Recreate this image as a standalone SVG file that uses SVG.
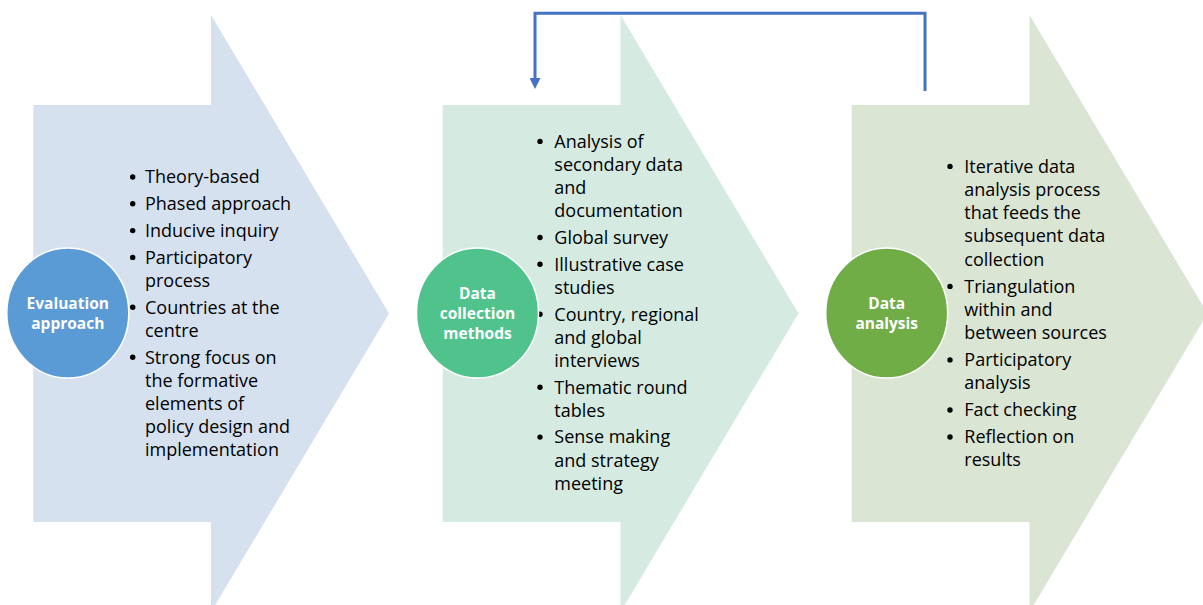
<svg xmlns="http://www.w3.org/2000/svg" width="1203" height="605" viewBox="0 0 1203 605">
<defs>
<style>
.item{font-family:"Open Sans","Liberation Sans",sans-serif;font-size:18px;fill:#000000;}
.lbl{font-family:"Open Sans","Liberation Sans",sans-serif;font-size:15.5px;font-weight:bold;fill:#ffffff;text-anchor:middle;}
.circ{stroke:#ffffff;stroke-width:1.5;}
.conn{fill:none;stroke:#4472C4;stroke-width:3;stroke-linejoin:miter;}
</style>
<marker id="ah" viewBox="0 0 10 10" refX="0" refY="5" markerUnits="userSpaceOnUse" markerWidth="11" markerHeight="11" orient="auto">
<path d="M0,0 L10,5 L0,10 Z" fill="#4472C4"/>
</marker>
</defs>
<rect width="1203" height="605" fill="#ffffff"/>

<g id="stage1">
<path d="M33.3,105 H211 V15 L389,313.5 L211,612 V522 H33.3 Z" fill="#D6E1EF"/>
<g class="item">
<circle cx="132.7" cy="177" r="2.7"/>
<circle cx="132.7" cy="203.8" r="2.7"/>
<circle cx="132.7" cy="230.6" r="2.7"/>
<circle cx="132.7" cy="257.4" r="2.7"/>
<circle cx="132.7" cy="307.3" r="2.7"/>
<circle cx="132.7" cy="357.2" r="2.7"/>
<text x="145" y="183.3">Theory-based</text>
<text x="145" y="210.1">Phased approach</text>
<text x="145" y="236.9">Inducive inquiry</text>
<text x="145" y="263.7">Participatory</text>
<text x="145" y="286.8">process</text>
<text x="145" y="313.6">Countries at the</text>
<text x="145" y="336.7">centre</text>
<text x="145" y="363.5">Strong focus on</text>
<text x="145" y="386.6">the formative</text>
<text x="145" y="409.7">elements of</text>
<text x="145" y="432.8">policy design and</text>
<text x="145" y="455.9">implementation</text>
</g>
</g>

<g id="stage2">
<path d="M442.7,105 H620.5 V15 L798.5,313.5 L620.5,612 V522 H442.7 Z" fill="#D5EBE2"/>
<g class="item">
<circle cx="540" cy="141.4" r="2.7"/>
<circle cx="540" cy="237.5" r="2.7"/>
<circle cx="540" cy="264.3" r="2.7"/>
<circle cx="540" cy="314.2" r="2.7"/>
<circle cx="540" cy="387.2" r="2.7"/>
<circle cx="540" cy="437.1" r="2.7"/>
<text x="554.3" y="147.7">Analysis of</text>
<text x="554.3" y="170.8">secondary data</text>
<text x="554.3" y="193.9">and</text>
<text x="554.3" y="217">documentation</text>
<text x="554.3" y="243.8">Global survey</text>
<text x="554.3" y="270.6">Illustrative case</text>
<text x="554.3" y="293.7">studies</text>
<text x="554.3" y="320.5">Country, regional</text>
<text x="554.3" y="343.6">and global</text>
<text x="554.3" y="366.7">interviews</text>
<text x="554.3" y="393.5">Thematic round</text>
<text x="554.3" y="416.6">tables</text>
<text x="554.3" y="443.4">Sense making</text>
<text x="554.3" y="466.5">and strategy</text>
<text x="554.3" y="489.6">meeting</text>
</g>
</g>

<g id="stage3">
<path d="M851.7,105 H1029.5 V15 L1207.5,313.5 L1029.5,612 V522 H851.7 Z" fill="#DAE5D4"/>
<g class="item">
<circle cx="950" cy="166.4" r="2.7"/>
<circle cx="950" cy="286.4" r="2.7"/>
<circle cx="950" cy="359.9" r="2.7"/>
<circle cx="950" cy="410" r="2.7"/>
<circle cx="950" cy="437" r="2.7"/>
<text x="964.3" y="172.7">Iterative data</text>
<text x="964.3" y="195.9">analysis process</text>
<text x="964.3" y="219.1">that feeds the</text>
<text x="964.3" y="242.3">subsequent data</text>
<text x="964.3" y="265.5">collection</text>
<text x="964.3" y="292.6">Triangulation</text>
<text x="964.3" y="315.8">within and</text>
<text x="964.3" y="339">between sources</text>
<text x="964.3" y="366.1">Participatory</text>
<text x="964.3" y="389.3">analysis</text>
<text x="964.3" y="416.3">Fact checking</text>
<text x="964.3" y="443.3">Reflection on</text>
<text x="964.3" y="466">results</text>
</g>
</g>

<g id="circle-evaluation">
<ellipse class="circ" cx="67.8" cy="313" rx="61" ry="65" fill="#5B9BD5"/>
<text class="lbl" x="67.8" y="308.5">Evaluation</text>
<text class="lbl" x="67.8" y="328.5">approach</text>
</g>

<g id="circle-collection">
<ellipse class="circ" cx="477.5" cy="313" rx="61" ry="65" fill="#4FC38B"/>
<text class="lbl" x="477.5" y="298.5">Data</text>
<text class="lbl" x="477.5" y="318.5">collection</text>
<text class="lbl" x="477.5" y="338.5">methods</text>
</g>

<g id="circle-analysis">
<ellipse class="circ" cx="886.7" cy="313" rx="61" ry="65" fill="#70AD47"/>
<text class="lbl" x="886.7" y="308.5">Data</text>
<text class="lbl" x="886.7" y="328.5">analysis</text>
</g>

<g id="connectors">
<path class="conn" d="M925,91 V13.3 H535 V78" marker-end="url(#ah)"/>
</g>
</svg>
